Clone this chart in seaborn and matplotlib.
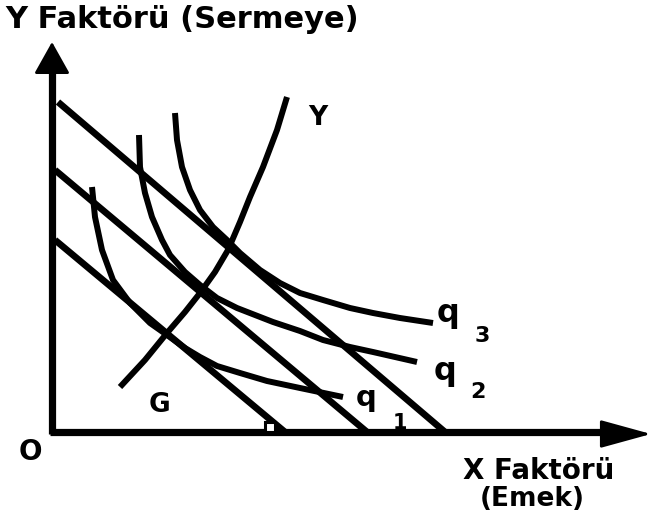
import numpy as np
import pandas as pd
import seaborn as sns
import matplotlib.pyplot as plt

# isocost lines (start point on the Y side, end point on the X axis)
iso_start_x = [0.3, 0.3, 0.6]
iso_start_y = [19.2, 26.2, 33.0]
iso_end_x = [23.3, 31.5, 39.3]

# isoquants q1, q2, q3
q1_x = [4.0, 4.3, 5.0, 6.1, 7.8, 9.8, 11.5, 13.3, 14.8, 16.5, 18.8, 21.5, 24.8, 29.1]
q1_y = [24.5, 21.5, 18.2, 15.2, 12.9, 10.9, 9.7, 8.4, 7.5, 6.6, 5.9, 5.1, 4.4, 3.5]
q2_x = [8.7, 8.8, 9.3, 10.0, 11.0, 11.8, 13.3, 14.8, 16.5, 18.5, 22.1, 24.8, 27.1, 29.8, 32.1, 34.3, 36.5]
q2_y = [29.7, 26.5, 23.9, 21.5, 19.2, 17.7, 16.0, 14.7, 13.4, 12.4, 11.0, 10.1, 9.2, 8.5, 8.0, 7.5, 7.0]
q3_x = [12.3, 12.5, 13.0, 13.8, 14.8, 16.1, 17.5, 18.8, 20.8, 22.8, 24.8, 27.1, 29.8, 32.1, 34.8, 38.1]
q3_y = [31.9, 29.2, 26.5, 24.2, 22.2, 20.5, 19.2, 17.9, 16.2, 14.9, 13.9, 13.2, 12.4, 11.9, 11.4, 10.9]

# expansion path G-Y
path_x = [6.8, 9.3, 11.5, 13.3, 14.8, 16.3, 17.6, 18.8, 19.8, 21.1, 22.5, 23.5]
path_y = [4.5, 7.2, 9.9, 12.0, 13.9, 16.0, 18.2, 21.0, 23.5, 26.5, 30.2, 33.5]

sns.set_style("white")
plt.rcParams['font.family'] = ['DejaVu Sans']

fig = plt.figure(figsize=(6.54, 5.26), dpi=100)
ax = fig.add_axes([0, 0, 1, 1])

for sx, sy, ex in zip(iso_start_x, iso_start_y, iso_end_x):
    df = pd.DataFrame({"x": [sx, ex], "y": [sy, 0.0]})
    sns.lineplot(data=df, x="x", y="y", color="black", lw=4.8, ax=ax,
                 sort=False, estimator=None, solid_capstyle='butt')

for xs, ys in [(q1_x, q1_y), (q2_x, q2_y), (q3_x, q3_y), (path_x, path_y)]:
    df = pd.DataFrame({"x": xs, "y": ys})
    sns.lineplot(data=df, x="x", y="y", color="black", lw=4.3, ax=ax,
                 sort=False, estimator=None, solid_capstyle='butt',
                 solid_joinstyle='round')

# axes with arrows
ax.plot([0, 0], [-0.2, 36.5], color="black", lw=5.2, solid_capstyle='butt')
ax.plot([-0.2, 56], [0, 0], color="black", lw=5.2, solid_capstyle='butt')
ax.annotate("", xy=(0, 39.0), xytext=(0, 35.5),
            arrowprops=dict(arrowstyle="-|>,head_length=0.5,head_width=0.28",
                            mutation_scale=40, color="black", lw=2, shrinkA=0, shrinkB=0))
ax.annotate("", xy=(59.9, -0.2), xytext=(54.0, -0.2),
            arrowprops=dict(arrowstyle="-|>,head_length=0.8,head_width=0.22",
                            mutation_scale=40, color="black", lw=2, shrinkA=0, shrinkB=0))

# small right-angle box on the X axis
ax.plot([21.8], [0.5], marker='s', ms=7, mfc='white', mec='black', mew=2.2)

bold = dict(fontweight='bold', color='black')
ax.text(-4.7, 41.3, "Y Faktörü (Sermeye)", fontsize=22, ha='left', va='center', **bold)
ax.text(-2.2, -2.0, "O", fontsize=20, ha='center', va='center', **bold)
ax.text(41.1, -3.9, "X Faktörü", fontsize=20, ha='left', va='center', **bold)
ax.text(42.8, -6.7, "(Emek)", fontsize=19, ha='left', va='center', **bold)
ax.text(26.6, 31.4, "Y", fontsize=19, ha='center', va='center', **bold)
ax.text(10.8, 2.7, "G", fontsize=19, ha='center', va='center', **bold)

ax.text(38.5, 11.0, "q", fontsize=23, ha='left', va='baseline', **bold)
ax.text(42.3, 9.0, "3", fontsize=16, ha='left', va='baseline', **bold)
ax.text(38.2, 5.2, "q", fontsize=23, ha='left', va='baseline', **bold)
ax.text(41.8, 3.4, "2", fontsize=16, ha='left', va='baseline', **bold)
ax.text(30.4, 2.6, "q", fontsize=21, ha='left', va='baseline', **bold)
ax.text(34.1, 0.3, "1", fontsize=15, ha='left', va='baseline', **bold)

ax.set_xlim(-5.2, 60.2)
ax.set_ylim(-9.4, 43.2)
ax.axis('off')

plt.savefig("out.png", dpi=100)
